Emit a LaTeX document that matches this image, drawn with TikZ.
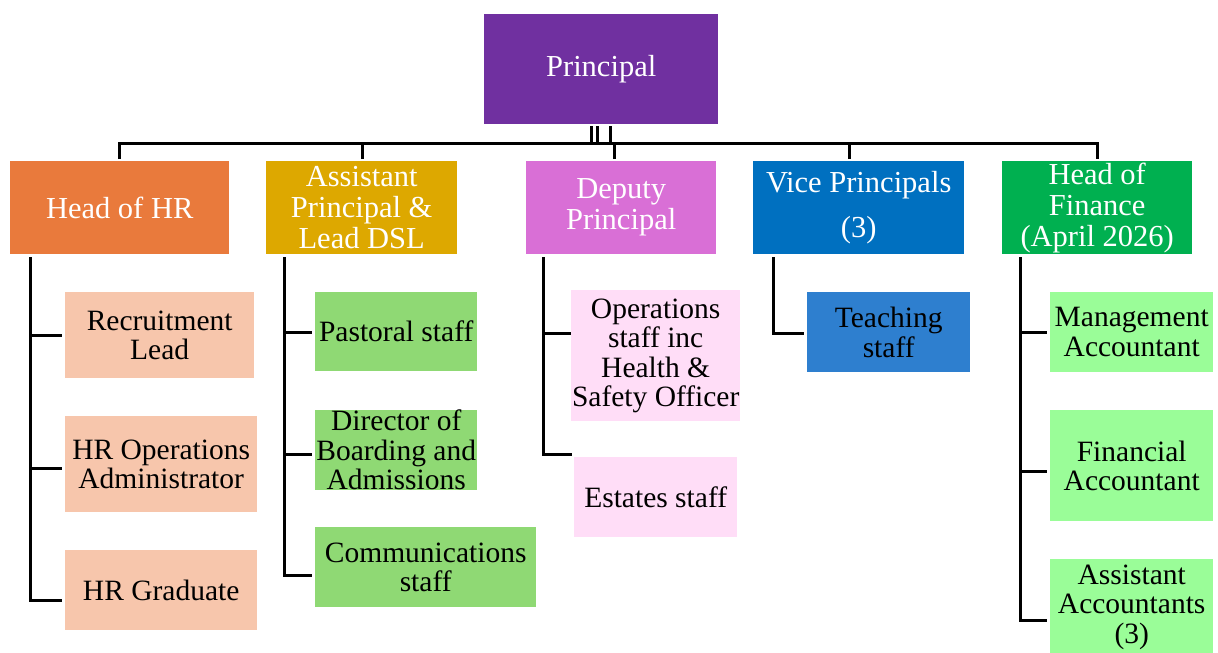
\documentclass[tikz,border=0pt]{standalone}
\usepackage{fontspec}
\setmainfont{Liberation Serif}
\definecolor{prC}{HTML}{7030A0}
\definecolor{hrC}{HTML}{E97A3C}
\definecolor{apC}{HTML}{DDA800}
\definecolor{dpC}{HTML}{D96FD6}
\definecolor{vpC}{HTML}{0070C0}
\definecolor{finC}{HTML}{00B050}
\definecolor{hrK}{HTML}{F7C6AC}
\definecolor{apK}{HTML}{8FD974}
\definecolor{dpK}{HTML}{FFDDF7}
\definecolor{vpK}{HTML}{2E7FCF}
\definecolor{finK}{HTML}{9AFD98}
\begin{document}
\begin{tikzpicture}[x=1pt,y=-1pt,
  box/.style={anchor=north west, inner sep=0pt, align=center, text=black,
    font=\fontsize{29.5}{29.5}\selectfont},
  topbox/.style={box, text=white, font=\fontsize{30.5}{31}\selectfont},
  conn/.style={line width=3pt, line join=miter}]
\useasboundingbox (0,0) rectangle (1218,653);
% top
\node[topbox, fill=prC, minimum width=234pt, minimum height=110pt] (pr) at (484,14) {Principal};
% level 1
\node[topbox, fill=hrC, minimum width=219pt, minimum height=93pt] (hr) at (10,161) {Head of HR};
\node[topbox, fill=apC, minimum width=191pt, minimum height=93pt] (ap) at (266,161) {Assistant\\Principal \&\\Lead DSL};
\node[topbox, fill=dpC, minimum width=190pt, minimum height=93pt] (dp) at (526,161) {Deputy\\Principal};
\node[topbox, fill=vpC, minimum width=211pt, minimum height=93pt] (vp) at (753,161) {Vice Principals\\[14pt](3)};
\node[topbox, fill=finC, minimum width=190pt, minimum height=93pt] (fin) at (1002,161) {Head of\\Finance\\(April 2026)};
% HR children
\node[box, fill=hrK, minimum width=189pt, minimum height=86pt] (rl) at (65,292) {Recruitment\\Lead};
\node[box, fill=hrK, minimum width=192pt, minimum height=96pt] (hro) at (65,416) {HR Operations\\Administrator};
\node[box, fill=hrK, minimum width=192pt, minimum height=80pt] (hrg) at (65,550) {HR Graduate};
% AP children
\node[box, fill=apK, minimum width=162pt, minimum height=79pt] (ps) at (315,292) {Pastoral staff};
\node[box, fill=apK, minimum width=162pt, minimum height=80pt] (dba) at (315,410) {Director of\\Boarding and\\Admissions};
\node[box, fill=apK, minimum width=221pt, minimum height=80pt] (com) at (315,527) {Communications\\staff};
% DP children
\node[box, fill=dpK, minimum width=169pt, minimum height=131pt] (ops) at (571,290) {Operations\\staff inc\\Health \&\\Safety Officer};
\node[box, fill=dpK, minimum width=163pt, minimum height=80pt] (est) at (574,457) {Estates staff};
% VP children
\node[box, fill=vpK, minimum width=163pt, minimum height=80pt] (ts) at (807,292) {Teaching\\staff};
% Finance children
\node[box, fill=finK, minimum width=163pt, minimum height=80pt] (ma) at (1050,292) {Management\\Accountant};
\node[box, fill=finK, minimum width=163pt, minimum height=111pt] (fa) at (1050,410) {Financial\\Accountant};
\node[box, fill=finK, minimum width=163pt, minimum height=96pt] (aa) at (1050,559) {Assistant\\Accountants\\(3)};
% bus
\coordinate (bus) at (0,143);
\draw[conn] ([yshift=2pt]hr.north) |- (bus -| fin.north) -- ([yshift=2pt]fin.north);
\coordinate (p1) at ([xshift=-10pt,yshift=-2pt]pr.south);
\coordinate (p2) at ([xshift=-4pt,yshift=-2pt]pr.south);
\coordinate (p3) at ([xshift=9pt,yshift=-2pt]pr.south);
\draw[conn] (p1) -- (p1 |- bus);
\draw[conn] (p2) -- (p2 |- bus);
\draw[conn] (p3) -- (p3 |- bus);
\coordinate (apc) at ([xshift=1pt,yshift=2pt]ap.north);
\coordinate (dpc) at ([xshift=-7pt,yshift=2pt]dp.north);
\coordinate (vpc) at ([xshift=-9pt,yshift=2pt]vp.north);
\draw[conn] (apc) -- (apc |- bus);
\draw[conn] (dpc) -- (dpc |- bus);
\draw[conn] (vpc) -- (vpc |- bus);
% HR trunk
\coordinate (hrT) at ([xshift=20pt,yshift=-3pt]hr.south west);
\draw[conn] (hrT) |- ([xshift=-3pt,yshift=-10pt]hrg.west);
\draw[conn] (hrT |- rl.west) -- ([xshift=-3pt]rl.west);
\draw[conn] ([yshift=-4pt]hrT |- hro.west) -- ([xshift=-3pt,yshift=-4pt]hro.west);
% AP trunk
\coordinate (apT) at ([xshift=18pt,yshift=-3pt]ap.south west);
\draw[conn] (apT) |- ([xshift=-3pt,yshift=-8pt]com.west);
\draw[conn] ([yshift=-1pt]apT |- ps.west) -- ([xshift=-3pt,yshift=-1pt]ps.west);
\draw[conn] ([yshift=-4pt]apT |- dba.west) -- ([xshift=-3pt,yshift=-4pt]dba.west);
% DP trunk
\coordinate (dpT) at ([xshift=17pt,yshift=-3pt]dp.south west);
\draw[conn] (dpT) |- ([xshift=-2pt,yshift=3pt]est.north west);
\draw[conn] ([yshift=22pt]dpT |- ops.west) -- ([yshift=22pt]ops.west);
% VP trunk
\coordinate (vpT) at ([xshift=20pt,yshift=-3pt]vp.south west);
\draw[conn] (vpT) |- ([xshift=-3pt,yshift=-1pt]ts.west);
% Finance trunk
\coordinate (finT) at ([xshift=18pt,yshift=-3pt]fin.south west);
\draw[conn] (finT) |- ([xshift=-3pt,yshift=-13pt]aa.west);
\draw[conn] (finT |- ma.west) -- ([xshift=-3pt]ma.west);
\draw[conn] ([yshift=-6pt]finT |- fa.west) -- ([xshift=-3pt,yshift=-6pt]fa.west);
\end{tikzpicture}
\end{document}
